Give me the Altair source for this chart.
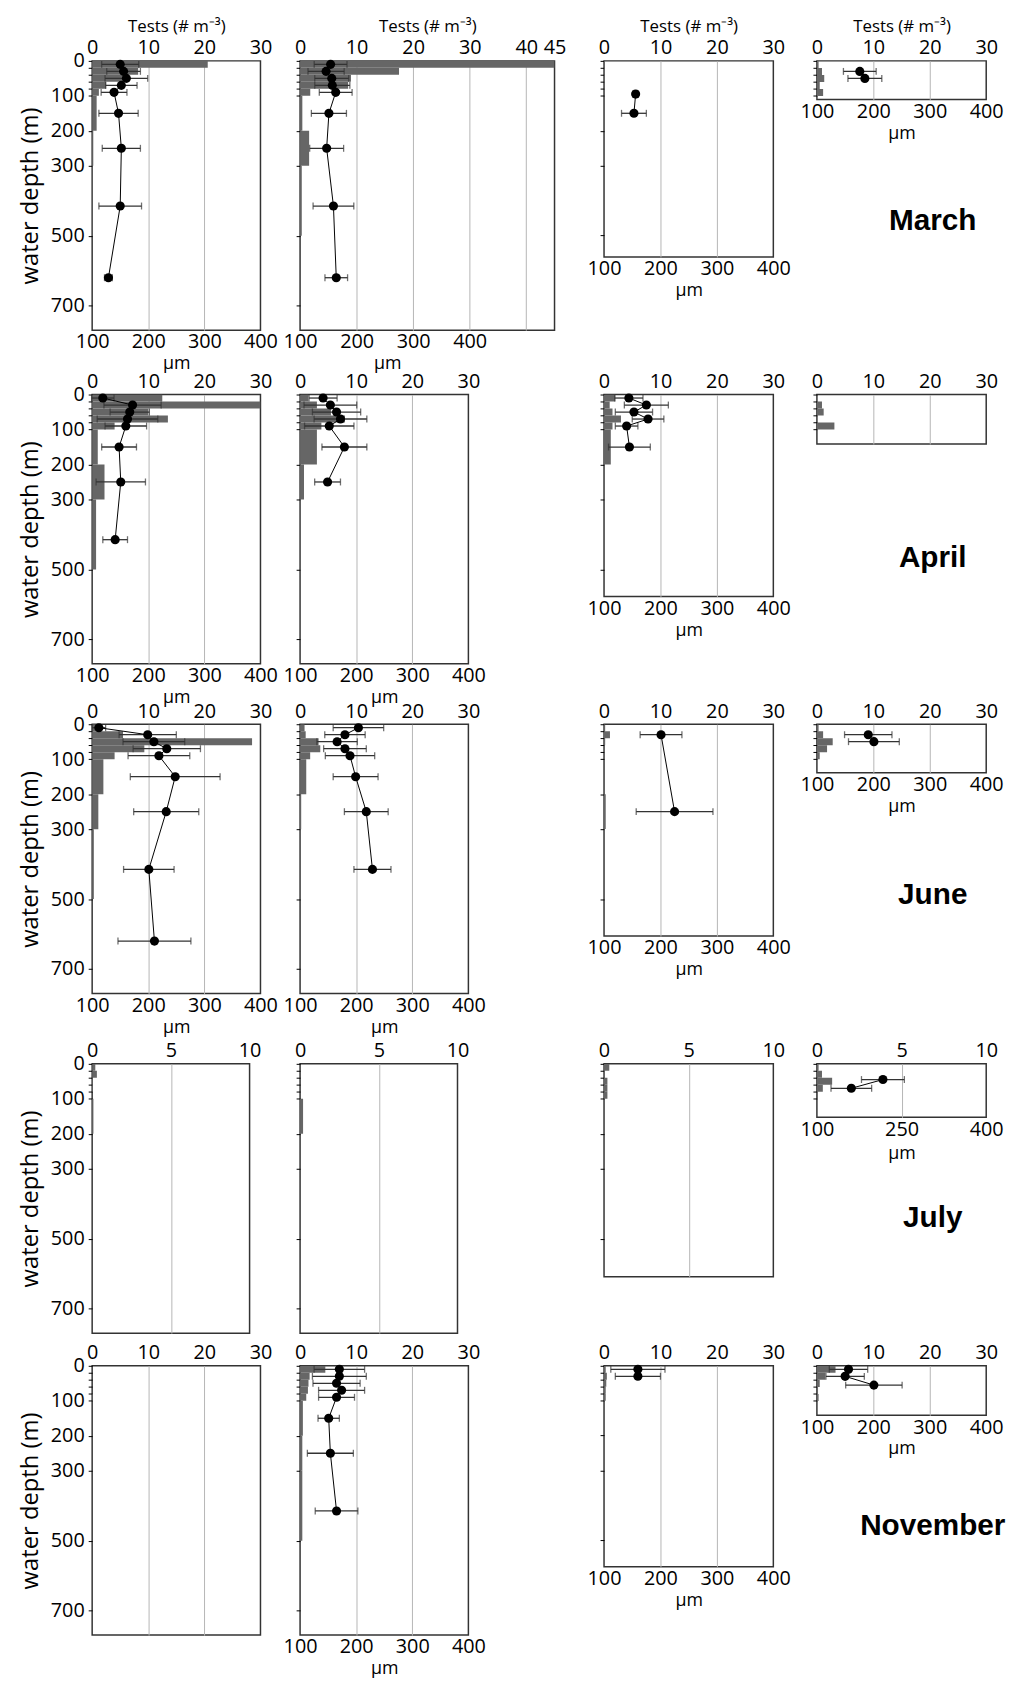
import altair as alt
import pandas as pd

FONT = "Open Sans"
MONTHS = ["March", "April", "June", "July", "November"]

# sampling intervals (m)
LAYER_TOP = [0, 20, 40, 60, 80, 100, 200, 300, 500]
LAYER_BOTTOM = [20, 40, 60, 80, 100, 200, 300, 500, 700]

# ---- March ----
MARCH_TESTS = [
    [20.6, 8.2, 5.5, 2.5, 1.2, 0.8, 0.2, 0.1, 0.0],
    [45.0, 17.5, 9.0, 8.5, 1.8, 0.4, 1.6, 0.3, 0.0],
    [0.15, 0.15, 0.15, 0.1, 0.05, 0.0, 0.0, 0.0, 0.0],
    [0.3, 0.9, 1.3, 0.5, 1.1],
]
MARCH_DEPTH = [[10, 30, 50, 70, 90, 150, 250, 415, 620],
               [10, 30, 50, 70, 90, 150, 250, 415, 620],
               [95, 150], [30, 50]]
MARCH_SIZE = [[150, 156, 161, 152, 139, 147, 152, 150, 129],
              [154, 146, 156, 157, 163, 151, 147, 159, 164],
              [156, 153], [176, 185]]
MARCH_SD = [[33, 30, 38, 28, 23, 35, 34, 38, 7],
            [29, 32, 30, 31, 29, 31, 30, 36, 20],
            [5, 22], [29, 30]]

# ---- April ----
APRIL_TESTS = [
    [12.5, 30.0, 10.0, 13.5, 4.0, 1.0, 2.2, 0.7, 0.0],
    [1.5, 3.0, 5.5, 8.0, 3.8, 3.0, 0.7, 0.1, 0.05],
    [2.0, 1.0, 1.5, 3.0, 1.5, 1.2, 0.1, 0.05, 0.0],
    [0.0, 0.9, 1.2, 0.0, 3.1],
]
APRIL_DEPTH = [[10, 30, 50, 70, 90, 150, 250, 415],
               [10, 30, 50, 70, 90, 150, 250],
               [10, 30, 50, 70, 90, 150], []]
APRIL_SIZE = [[119, 172, 167, 163, 160, 148, 151, 141],
              [141, 154, 165, 172, 152, 179, 149],
              [144, 175, 153, 178, 140, 145], []]
APRIL_SD = [[20, 51, 35, 54, 37, 31, 44, 22],
            [25, 47, 43, 47, 44, 40, 23],
            [25, 39, 33, 28, 20, 37], []]

# ---- June ----
JUNE_TESTS = [
    [1.5, 5.5, 28.5, 9.3, 4.0, 2.0, 1.1, 0.3, 0.0],
    [0.8, 1.0, 3.3, 3.6, 1.8, 1.1, 0.2, 0.1, 0.0],
    [0.2, 1.05, 0.2, 0.1, 0.1, 0.0, 0.3, 0.1, 0.0],
    [0.3, 1.1, 2.8, 1.8, 0.5],
]
JUNE_DEPTH = [[10, 30, 50, 70, 90, 150, 250, 415, 620],
              [10, 30, 50, 70, 90, 150, 250, 415],
              [30, 250], [30, 50]]
JUNE_SIZE = [[112, 199, 210, 233, 219, 248, 232, 201, 211],
             [204, 180, 166, 180, 189, 199, 218, 229],
             [201, 225], [191, 201]]
JUNE_SD = [[12, 51, 55, 60, 55, 80, 58, 45, 65],
           [45, 36, 36, 38, 44, 40, 39, 33],
           [37, 68], [42, 45]]

# ---- July ----
JULY_TESTS = [
    [0.2, 0.3, 0.05, 0.05, 0.0, 0.08, 0.0, 0.0, 0.0],
    [0.0, 0.0, 0.0, 0.0, 0.0, 0.19, 0.0, 0.0, 0.0],
    [0.31, 0.05, 0.2, 0.2, 0.2, 0.0, 0.0, 0.0, 0.0],
    [0.1, 0.3, 0.9, 0.35, 0.05],
]
JULY_DEPTH = [[], [], [], [45, 70]]
JULY_SIZE = [[], [], [], [217, 161]]
JULY_SD = [[], [], [], [38, 36]]

# ---- November ----
NOVEMBER_TESTS = [
    [0.0, 0.0, 0.0, 0.0, 0.1, 0.0, 0.0, 0.0, 0.0],
    [4.5, 1.7, 1.5, 1.4, 1.1, 0.5, 0.4, 0.4, 0.0],
    [0.3, 0.5, 0.4, 0.3, 0.3, 0.0, 0.0, 0.0, 0.0],
    [3.3, 1.5, 0.5, 0.2, 0.3],
]
NOVEMBER_DEPTH = [[], [10, 30, 50, 70, 90, 150, 250, 415], [10, 30], [10, 30, 55]]
NOVEMBER_SIZE = [[], [170, 170, 165, 174, 165, 151, 154, 165], [160, 160], [156, 150, 201]]
NOVEMBER_SD = [[], [45, 48, 42, 41, 32, 19, 41, 38], [48, 40], [34, 34, 50]]

TESTS = {"March": MARCH_TESTS, "April": APRIL_TESTS, "June": JUNE_TESTS,
         "July": JULY_TESTS, "November": NOVEMBER_TESTS}
DEPTH = {"March": MARCH_DEPTH, "April": APRIL_DEPTH, "June": JUNE_DEPTH,
         "July": JULY_DEPTH, "November": NOVEMBER_DEPTH}
SIZE = {"March": MARCH_SIZE, "April": APRIL_SIZE, "June": JUNE_SIZE,
        "July": JULY_SIZE, "November": NOVEMBER_SIZE}
SD = {"March": MARCH_SD, "April": APRIL_SD, "June": JUNE_SD,
      "July": JULY_SD, "November": NOVEMBER_SD}

# axis ranges / ticks
TESTS_TICKS = {
    "March": [[0, 10, 20, 30], [0, 10, 20, 30, 40, 45], [0, 10, 20, 30], [0, 10, 20, 30]],
    "April": [[0, 10, 20, 30]] * 4,
    "June": [[0, 10, 20, 30]] * 4,
    "July": [[0, 5, 10]] * 4,
    "November": [[0, 10, 20, 30]] * 4,
}
SIZE_MAX = {"March": [400, 550, 400, 400], "April": [400] * 4, "June": [400] * 4,
            "July": [400] * 4, "November": [400] * 4}
SIZE_TICKS = {"March": [[100, 200, 300, 400]] * 4, "April": [[100, 200, 300, 400]] * 4,
              "June": [[100, 200, 300, 400]] * 4,
              "July": [[100, 200, 300, 400]] * 3 + [[100, 250, 400]],
              "November": [[100, 200, 300, 400]] * 4}
DEPTH_MAX = {"March": [770, 770, 561, 110], "April": [770, 770, 577, 142],
             "June": [770, 770, 606, 139], "July": [770, 770, 609, 153],
             "November": [770, 770, 576, 141]}
YTICKS = [0, 20, 40, 60, 80, 100, 200, 300, 500, 700]

# layout (pixels)
PX_PER_M = 272 / 770
WIDTHS = {"March": [170, 257, 171, 171], "April": [170, 170, 171, 171],
          "June": [170, 170, 171, 171], "July": [159, 159, 171, 171],
          "November": [170, 170, 171, 171]}
GAPS_X = [7, 40, 50, 44]
GAPS_Y = [65, 61, 71, 33]
MONTH_POS = {"March": (117, 162), "April": (117, 165), "June": (117, 173),
             "July": (117, 156), "November": (117, 162)}

BAR_COLOR = "#666666"
ERR_COLOR = "#333333"


def y_axis(c, dmax):
    kw = dict(values=[v for v in YTICKS if v <= dmax], ticks=True, tickSize=4,
              tickColor="black", tickWidth=1, domain=False, grid=False,
              labelOverlap=False)
    if c == 0:
        kw.update(labelExpr="datum.value % 100 == 0 ? datum.label : ''",
                  labelPadding=4, title="water depth (m)", titleFontSize=24,
                  titlePadding=8)
    else:
        kw.update(labels=False, title=None)
    return alt.Axis(**kw)


def panel(r, m, c):
    dmax = DEPTH_MAX[m][c]
    w = WIDTHS[m][c]
    h = round(dmax * PX_PER_M)
    tt = TESTS_TICKS[m][c]
    tmax = tt[-1]
    ys = alt.Scale(domain=[0, dmax], reverse=True, nice=False, zero=False)
    yax = y_axis(c, dmax)

    tests = TESTS[m][c]
    n = len(tests)
    bdf = pd.DataFrame({"top": LAYER_TOP[:n], "bottom": LAYER_BOTTOM[:n], "tests": tests})
    tax = dict(orient="top", values=tt, grid=True, gridColor="#b5b5b5", gridWidth=1,
               gridOpacity={"condition": {"test": f"datum.value <= 0 || datum.value >= {tmax}",
                                          "value": 0}, "value": 1},
               ticks=False, domain=False, labelPadding=3, labelFlush=False,
               labelOverlap=False)
    if r == 0:
        tax.update(title="Tests (# m\u207b\u00b3)", titlePadding=3, titleFontSize=17)
    else:
        tax.update(title=None)
    bars = alt.Chart(bdf).transform_calculate(zero="0").mark_rect(
        color=BAR_COLOR, clip=True).encode(
        x=alt.X("tests:Q", scale=alt.Scale(domain=[0, tmax], nice=False, zero=True),
                axis=alt.Axis(**tax)),
        x2="zero:Q",
        y=alt.Y("top:Q", scale=ys, axis=yax),
        y2="bottom:Q",
    )
    layers = [bars]

    depth = DEPTH[m][c]
    if depth:
        pdf = pd.DataFrame({"depth": depth, "um": SIZE[m][c], "sd": SD[m][c]})
        smax = SIZE_MAX[m][c]
        sx = alt.Scale(domain=[100, smax], nice=False, zero=False)
        stt = SIZE_TICKS[m][c]
        tpad = 6 if len(stt) == 3 else 3
        skw = dict(orient="bottom", values=stt, title="\u00b5m",
                   titleFontSize=18, titlePadding=tpad, grid=False, ticks=False,
                   domain=False, labelPadding=2, labelFlush=False, labelOverlap=False)
        if smax > 400:
            # wide panel: centre the unit under the labelled 100-400 range
            skw.update(titleX=88, titleY=25, titleAlign="center", titleBaseline="top")
        sax = alt.Axis(**skw)
        base = alt.Chart(pdf).transform_calculate(
            lo="datum.um - datum.sd", hi="datum.um + datum.sd")
        yenc = alt.Y("depth:Q", scale=ys, axis=yax)
        rule = base.mark_rule(color=ERR_COLOR, strokeWidth=1.3).encode(
            x=alt.X("lo:Q", scale=sx, axis=sax), x2="hi:Q", y=yenc)
        caps = base.transform_fold(["lo", "hi"], as_=["end", "xv"]).mark_tick(
            orient="vertical", color=ERR_COLOR, size=7, thickness=1.3).encode(
            x=alt.X("xv:Q", scale=sx, axis=sax), y=yenc)
        line = base.mark_line(color="black", strokeWidth=1).encode(
            x=alt.X("um:Q", scale=sx, axis=sax), y=yenc, order="depth:Q")
        dots = base.mark_circle(color="black", size=85, opacity=1).encode(
            x=alt.X("um:Q", scale=sx, axis=sax), y=yenc)
        layers.append(alt.layer(rule, caps, line, dots))

    if c == 3:
        mx, my = MONTH_POS[m]
        txt = alt.Chart(pd.DataFrame({"month": [m]})).mark_text(
            font="Liberation Sans", fontWeight="bold", fontSize=30,
            align="center", baseline="middle", color="black").encode(
            text="month:N", x=alt.value(mx), y=alt.value(my))
        layers.append(txt)

    ch = alt.layer(*layers).properties(width=w, height=h)
    if len(layers) > 1:
        ch = ch.resolve_scale(x="independent")
    return ch


def spacer(w, h):
    return alt.Chart(pd.DataFrame({"v": [0]})).mark_point(opacity=0).encode(
        x=alt.X("v:Q", axis=None), y=alt.Y("v:Q", axis=None)
    ).properties(width=w, height=h, view=alt.ViewBackground(strokeOpacity=0))


cells = []
for r, m in enumerate(MONTHS):
    cells.append(spacer(GAPS_X[0], 1))
    for c in range(4):
        cells.append(panel(r, m, c))
        if c < 3:
            cells.append(spacer(GAPS_X[c + 1], 1))
    if r < len(MONTHS) - 1:
        cells.append(spacer(1, GAPS_Y[r]))
        for _ in range(7):
            cells.append(spacer(1, 1))

chart = alt.concat(
    *cells, columns=8, spacing=0, bounds="flush",
    align={"row": "each", "column": "each"}
).properties(
    padding={"left": 9, "top": 0, "right": 0, "bottom": 0}
).configure_view(
    stroke="#333333", strokeWidth=1.5
).configure_axis(
    labelFont=FONT, titleFont=FONT, labelFontSize=20, labelColor="black",
    titleColor="black", titleFontWeight="normal"
)

chart.save("out.html", embed_options={"renderer": "svg", "actions": False})
